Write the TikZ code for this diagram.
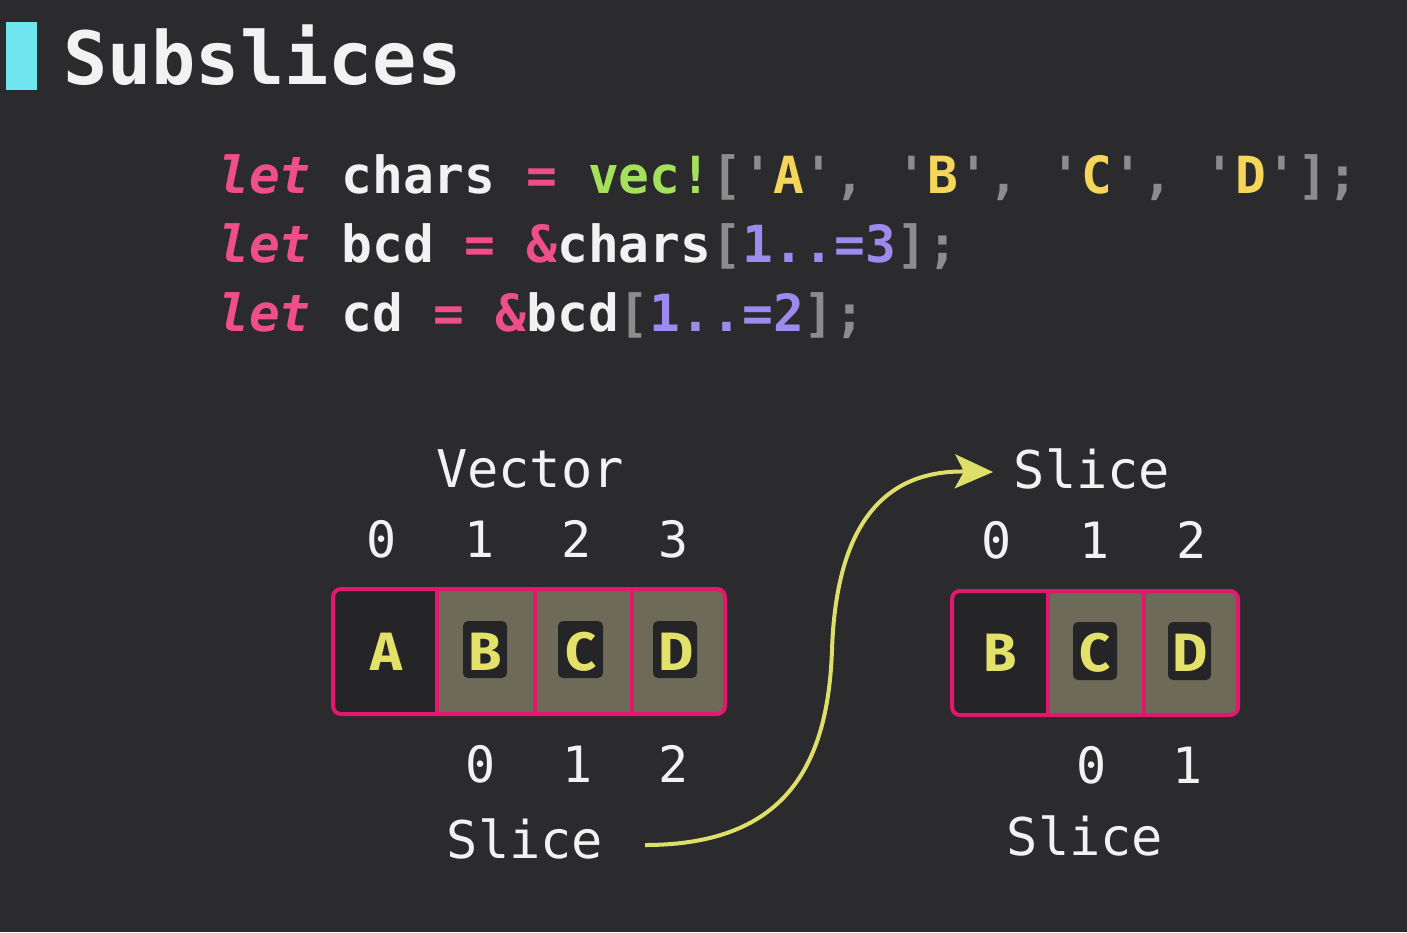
\documentclass[tikz,border=0pt]{standalone}
\usepackage{fontspec}
\setmonofont{DejaVu Sans Mono}
\newfontfamily\cellfont{Fira Sans}
\usetikzlibrary{arrows.meta}
\definecolor{bg}{HTML}{2B2A2D}
\definecolor{cyanbar}{HTML}{6DE4EE}
\definecolor{cellpink}{HTML}{E2186F}
\definecolor{olive}{HTML}{6D6A57}
\definecolor{darkcell}{HTML}{252427}
\definecolor{letteryellow}{HTML}{E3E16A}
\definecolor{cpink}{HTML}{EE4F86}
\definecolor{cgreen}{HTML}{A5E05C}
\definecolor{cgray}{HTML}{8C8C8C}
\definecolor{cyellow}{HTML}{F5D65A}
\definecolor{cpurple}{HTML}{9D8AEE}
\definecolor{txtwhite}{HTML}{F2F2F2}
\definecolor{arrowyellow}{HTML}{DEDE6A}
\newcommand{\kw}[1]{{\color{cpink}\itshape #1}}
\newcommand{\op}[1]{{\color{cpink}#1}}
\newcommand{\pu}[1]{{\color{cgray}#1}}
\newcommand{\nm}[1]{{\color{cpurple}#1}}
\newcommand{\ch}[1]{{\color{cyellow}#1}}
\begin{document}
\begin{tikzpicture}[x=1pt,y=-1pt,
  codeline/.style={anchor=base west, inner sep=0pt, text=txtwhite,
    font=\ttfamily\bfseries\fontsize{51.2}{51.2}\selectfont},
  label/.style={anchor=base, inner sep=0pt, text=txtwhite,
    font=\ttfamily\fontsize{52}{52}\selectfont},
  idx/.style={anchor=base, inner sep=0pt, text=txtwhite,
    font=\ttfamily\fontsize{50}{50}\selectfont},
  letter/.style={anchor=base, inner sep=0pt, text=letteryellow,
    font=\cellfont\bfseries\fontsize{54}{54}\selectfont},
  outerbox/.style={draw=cellpink, line width=4pt, rounded corners=8pt},
  divider/.style={draw=cellpink, line width=3.5pt},
  innerbox/.style={fill=darkcell, rounded corners=5pt},
  link/.style={draw=arrowyellow, line width=4pt,
    -{Stealth[length=38pt,width=34pt,inset=9pt]}}
]
\path[fill=bg] (0,0) rectangle (1407,932);
\useasboundingbox (0,0) rectangle (1407,932);

% title
\fill[cyanbar] (6,22) rectangle (37,90);
\node[anchor=base west, inner sep=0pt, text=txtwhite,
  font=\ttfamily\bfseries\fontsize{73.5}{73.5}\selectfont] (title) at (63,84) {Subslices};

% code
\node[codeline] (code1) at (218,193) {\kw{let} chars \op{=} {\color{cgreen}vec!}\pu{['}\ch{A}\pu{',} \pu{'}\ch{B}\pu{',} \pu{'}\ch{C}\pu{',} \pu{'}\ch{D}\pu{'];}};
\node[codeline] (code2) at (218,262) {\kw{let} bcd \op{=} \op{\&}chars\pu{[}\nm{1..=3}\pu{];}};
\node[codeline] (code3) at (218,331) {\kw{let} cd \op{=} \op{\&}bcd\pu{[}\nm{1..=2}\pu{];}};

% ---------- vector ----------
\path[fill=darkcell, rounded corners=8pt] (333,589) rectangle (725,714);
\path[fill=olive, rounded corners=8pt] (437,589) rectangle (725,714);
\fill[olive] (437,589) rectangle (460,714);
\draw[outerbox] (333,589) rectangle (725,714);
\draw[divider] (437,589) -- (437,714);
\draw[divider] (535,589) -- (535,714);
\draw[divider] (632,589) -- (632,714);
\fill[innerbox] (463,621) rectangle (507,678);
\fill[innerbox] (558,621) rectangle (603,678);
\fill[innerbox] (653,621) rectangle (697,678);
\node[letter] (vA) at (386,670) {A};
\node[letter] (vB) at (485,670) {B};
\node[letter] (vC) at (581,670) {C};
\node[letter] (vD) at (676,670) {D};

\node[label] (vlabel) at (530,487) {Vector};
\node[idx] (vi0) at (382,557) {0};
\node[idx] (vi1) at (480,557) {1};
\node[idx] (vi2) at (577,557) {2};
\node[idx] (vi3) at (674,557) {3};

\node[idx] (bi0) at (481,782) {0};
\node[idx] (bi1) at (578,782) {1};
\node[idx] (bi2) at (674,782) {2};
\node[label] (blabel) at (525,858) {Slice};

% ---------- slice ----------
\path[fill=darkcell, rounded corners=8pt] (952,591) rectangle (1238,715);
\path[fill=olive, rounded corners=8pt] (1048,591) rectangle (1238,715);
\fill[olive] (1048,591) rectangle (1070,715);
\draw[outerbox] (952,591) rectangle (1238,715);
\draw[divider] (1048,591) -- (1048,715);
\draw[divider] (1144,591) -- (1144,715);
\fill[innerbox] (1073,622) rectangle (1117,680);
\fill[innerbox] (1168,622) rectangle (1211,680);
\node[letter] (sB) at (1000,671) {B};
\node[letter] (sC) at (1095,671) {C};
\node[letter] (sD) at (1190,671) {D};

\node[label] (slabel) at (1092,488) {Slice};
\node[idx] (si0) at (997,558) {0};
\node[idx] (si1) at (1095,558) {1};
\node[idx] (si2) at (1192,558) {2};

\node[idx] (ti0) at (1092,783) {0};
\node[idx] (ti1) at (1188,783) {1};
\node[label] (tlabel) at (1085,855) {Slice};

% arrow
\coordinate (astart) at (645,845);
\coordinate (amid) at (832,650);
\coordinate (aend) at (993,472);
\draw[link] (astart) .. controls (790,845) and (828,760) .. (amid)
  .. controls (836,530) and (880,470) .. (aend);
\end{tikzpicture}
\end{document}
